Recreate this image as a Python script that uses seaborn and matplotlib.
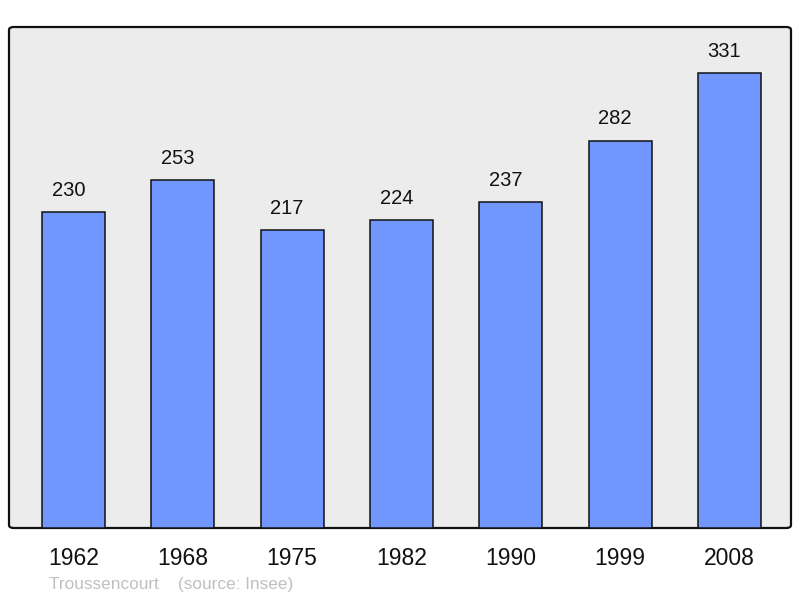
import matplotlib
matplotlib.use("Agg")
import matplotlib.pyplot as plt
import seaborn as sns
import pandas as pd
from matplotlib.patches import FancyBboxPatch

years = ["1962", "1968", "1975", "1982", "1990", "1999", "2008"]
population = [230, 253, 217, 224, 237, 282, 331]
footer = "Troussencourt    (source: Insee)"

sns.set_theme(style="white")
plt.rcParams['font.family'] = ['Liberation Sans', 'DejaVu Sans']

df = pd.DataFrame({"year": years, "pop": population})

fig = plt.figure(figsize=(8, 5.98), dpi=100)
ax = fig.add_axes([9/800, 70/598, 782/800, 501/598])
ax.set_facecolor("none")

bg = FancyBboxPatch((0, 0), 1, 1, boxstyle="round,pad=0,rounding_size=0.006",
                    transform=ax.transAxes, facecolor="#ececec", edgecolor="#111111",
                    linewidth=1.6, zorder=0, clip_on=False)
ax.add_patch(bg)

sns.barplot(data=df, x="year", y="pop", ax=ax, color="#7197ff", saturation=1,
            width=0.576, edgecolor="#111111", linewidth=1.1, zorder=2)

for i, v in enumerate(population):
    ax.annotate(str(v), (i, v), xytext=(-3.6, 15.5), textcoords="offset points",
                ha="center", va="center", fontsize=14.5, color="#111111")

ax.set_xlim(-0.59, 6.563)
ax.set_ylim(0, 364.6)
ax.set_yticks([])
ax.set_xlabel("")
ax.set_ylabel("")
ax.tick_params(axis="x", length=0, pad=14, labelsize=16.5, labelcolor="#111111")
for s in ax.spines.values():
    s.set_visible(False)

fig.text(49/800, 1 - 584/598, footer, fontsize=12.4, color="#c0c0c0",
         ha="left", va="center")

fig.savefig("out.png", dpi=100)
